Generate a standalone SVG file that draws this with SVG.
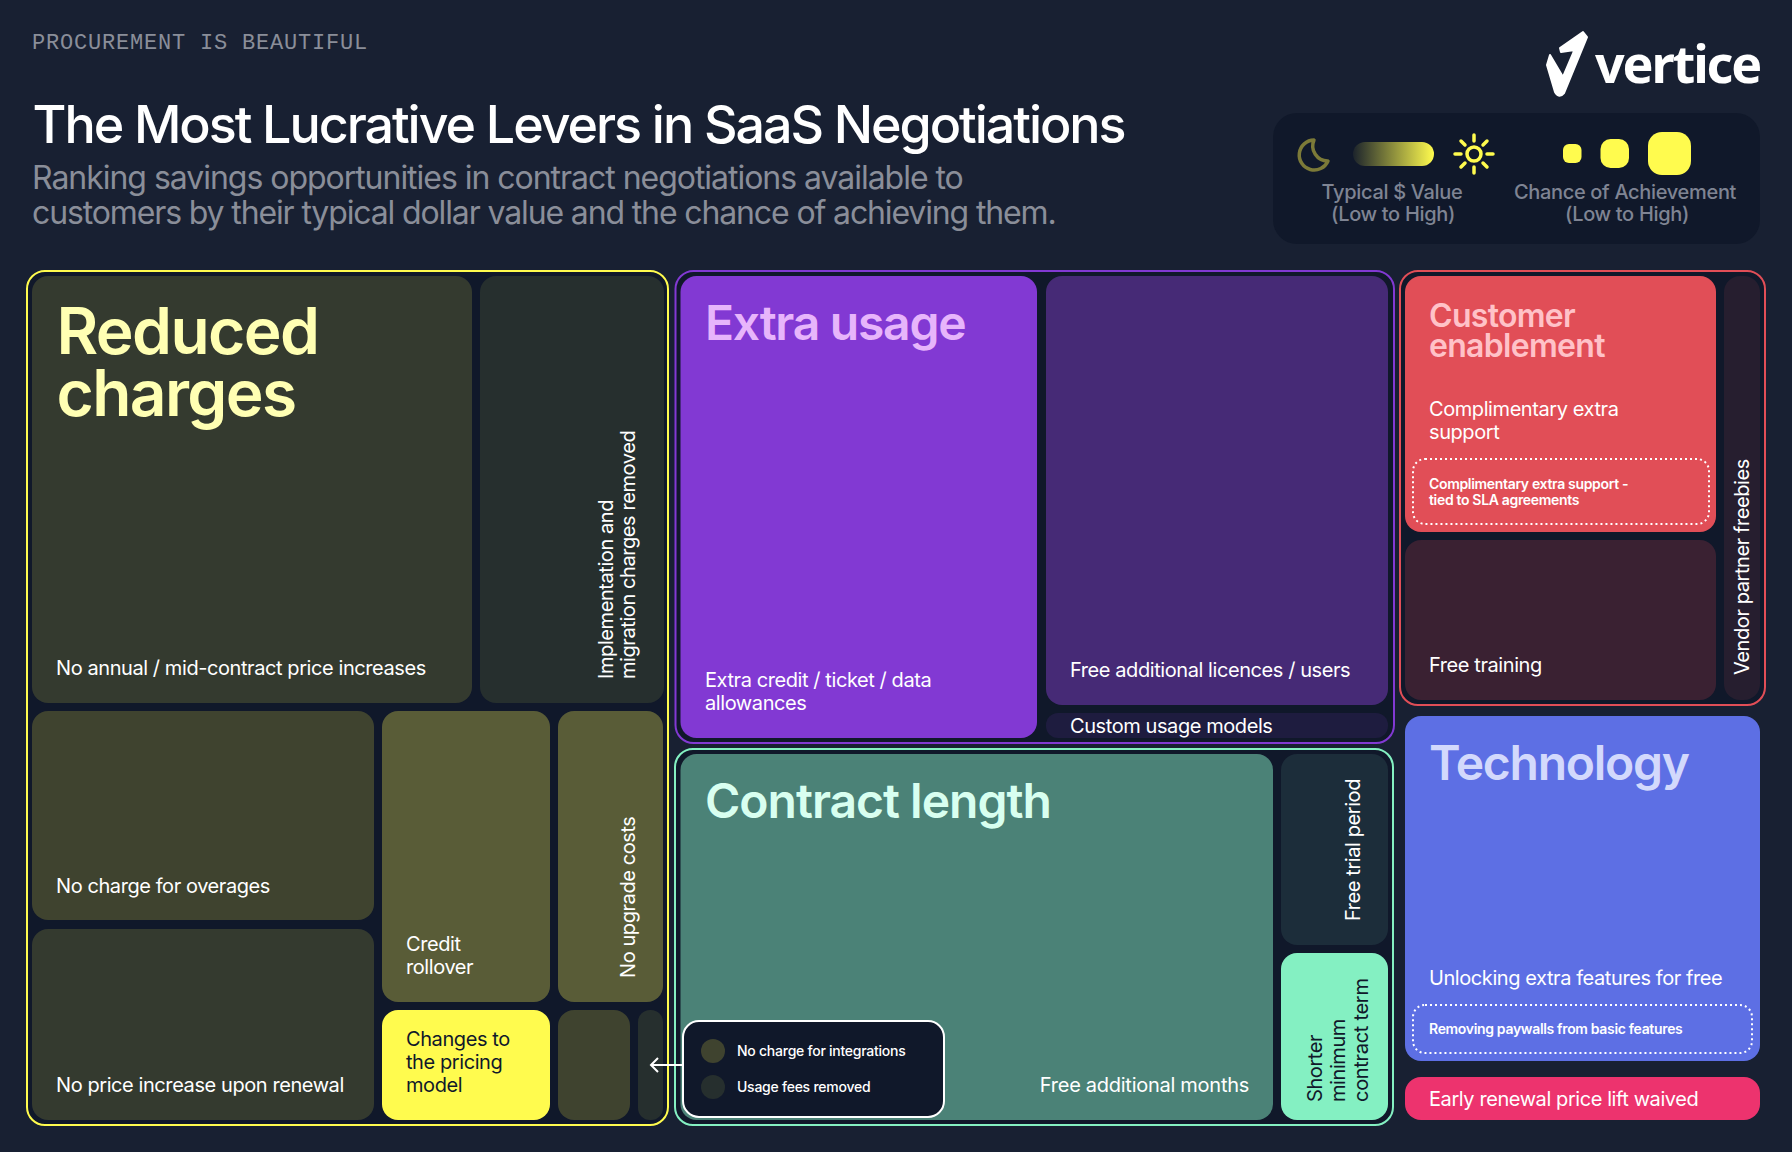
<svg xmlns="http://www.w3.org/2000/svg" width="1792" height="1152" viewBox="0 0 1792 1152">
<defs>
<linearGradient id="pill" x1="0" x2="1" y1="0" y2="0"><stop offset="0" stop-color="#fffb4e" stop-opacity="0.05"/><stop offset="1" stop-color="#fffb4e"/></linearGradient>
</defs>
<style>
text{font-family:"Inter","Liberation Sans",sans-serif;fill:#fff}
.l{font-size:20px;letter-spacing:-0.42px}
.h{font-weight:600;font-size:48px;letter-spacing:-1.05px}
.g{fill:#10182a;stroke-width:2}
.d{fill:none;stroke:#fff;stroke-width:2;stroke-dasharray:2 3}
.s{font-size:14px;font-weight:600;letter-spacing:-0.33px}
.leg{font-size:20px;font-weight:500;fill:#7f8493;text-anchor:middle;letter-spacing:-0.32px}
</style>
<rect width="1792" height="1152" fill="#182032"/>
<g id="header">
<text x="32" y="49" style="font-family:'Liberation Mono',monospace;font-size:22px;letter-spacing:0.8px;fill:#8a8e99">PROCUREMENT IS BEAUTIFUL</text>
<text x="32.500" y="143" style="font-size:52px;font-weight:500;letter-spacing:-2.05px">The Most Lucrative Levers in SaaS Negotiations</text>
<text x="32" y="189" style="font-size:32px;font-weight:400;letter-spacing:-1.03px;fill:#8a8e99">Ranking savings opportunities in contract negotiations available to</text>
<text x="32" y="224" style="font-size:32px;font-weight:400;letter-spacing:-1.13px;fill:#8a8e99">customers by their typical dollar value and the chance of achieving them.</text>
</g>
<g id="logo">
<path d="M1583 32L1587 37L1564 93Q1559 99 1555 92L1547 65L1550 55L1563 77L1574.5 50L1561 52L1560 48Z" fill="#fff" stroke="#fff" stroke-width="2" stroke-linejoin="round"/>
<text x="1595" y="83" style="font-family:'Noto Sans',sans-serif;font-size:52px;font-weight:700;letter-spacing:-2.1px">vertice</text>
</g>
<g id="legend">
<rect x="1273" y="113" width="487" height="131" rx="24" fill="#10182a"/>
<path d="M1314 140A15 15 0 1 0 1328 161A15 15 0 0 1 1314 140Z" fill="none" stroke="#7c7a38" stroke-width="3.5" stroke-linejoin="round"/>
<rect x="1353" y="142" width="81" height="24" rx="12" fill="url(#pill)"/>
<g stroke="#fffb4e" stroke-width="3.5" stroke-linecap="round" fill="none">
<circle cx="1474" cy="154" r="7"/>
<path d="M1474 135V141M1474 167V173M1455 154H1461M1487 154H1493M1461 141L1465 145M1483 163L1487 167M1461 167L1465 163M1483 145L1487 141"/>
</g>
<rect x="1563" y="144" width="18.500" height="19" rx="6" fill="#fffb4e"/>
<rect x="1600.500" y="139" width="28.500" height="29" rx="10" fill="#fffb4e"/>
<rect x="1648" y="132" width="43" height="43" rx="14" fill="#fffb4e"/>
<text class="leg" x="1392" y="199">Typical $ Value</text>
<text class="leg" x="1393" y="221">(Low to High)</text>
<text class="leg" x="1625" y="199">Chance of Achievement</text>
<text class="leg" x="1627" y="221">(Low to High)</text>
</g>
<g id="frames">
<rect class="g" x="27" y="271" width="641" height="854" rx="18" stroke="#fffb4e"/>
<rect class="g" x="675.500" y="271" width="718.500" height="472" rx="18" stroke="#8239d3"/>
<rect class="g" x="675" y="749" width="718" height="376" rx="18" stroke="#84f0c2"/>
<rect class="g" x="1400" y="271" width="365" height="434" rx="18" stroke="#e14e57"/>
</g>
<g id="reduced-charges">
<rect x="32" y="276" width="440" height="427" rx="16" fill="#343a2f"/>
<text x="56.500" y="354" class="h" style="font-size:64px;letter-spacing:-1.6px;fill:#ffffb3">Reduced</text>
<text x="56.500" y="416" class="h" style="font-size:64px;letter-spacing:-1.6px;fill:#ffffb3">charges</text>
<text x="56" y="675" class="l">No annual / mid-contract price increases</text>
</g>
<g id="implementation">
<rect x="480" y="276" width="184" height="427" rx="16" fill="#262f2e"/>
<text class="l" transform="translate(613 679) rotate(-90)">Implementation and</text>
<text class="l" transform="translate(635 679) rotate(-90)">migration charges removed</text>
</g>
<g id="overages">
<rect x="32" y="711" width="342" height="209" rx="16" fill="#3f432f"/>
<text x="56" y="893" class="l">No charge for overages</text>
</g>
<g id="price-increase">
<rect x="32" y="929" width="342" height="191" rx="16" fill="#343a2f"/>
<text x="56" y="1092" class="l">No price increase upon renewal</text>
</g>
<g id="credit-rollover">
<rect x="382" y="711" width="168" height="291" rx="16" fill="#595c37"/>
<text x="406" y="951" class="l">Credit</text>
<text x="406" y="974" class="l">rollover</text>
</g>
<g id="upgrade">
<rect x="558" y="711" width="105" height="291" rx="16" fill="#595c37"/>
<text class="l" transform="translate(635 978) rotate(-90)">No upgrade costs</text>
</g>
<g id="pricing-model">
<rect x="382" y="1010" width="168" height="110" rx="16" fill="#fffb4e"/>
<text x="406" y="1046" class="l" style="fill:#10182a">Changes to</text>
<text x="406" y="1069" class="l" style="fill:#10182a">the pricing</text>
<text x="406" y="1092" class="l" style="fill:#10182a">model</text>
</g>
<g id="integrations"><rect x="558" y="1010" width="72" height="110" rx="16" fill="#3f432f"/></g>
<g id="usage-fees"><rect x="638" y="1010" width="25" height="110" rx="12" fill="#262f2e"/></g>
<g id="extra-usage">
<rect x="680.500" y="276" width="356.500" height="462" rx="16" fill="#8239d3"/>
<text x="705" y="340" class="h" style="letter-spacing:-1.25px;fill:#e7b5fb">Extra usage</text>
<text x="705" y="687" class="l">Extra credit / ticket / data</text>
<text x="705" y="710" class="l">allowances</text>
</g>
<g id="licences">
<rect x="1046" y="276" width="342" height="429" rx="16" fill="#462a76"/>
<text x="1070" y="677" class="l">Free additional licences / users</text>
</g>
<g id="custom-usage">
<rect x="1046" y="713" width="342" height="25" rx="12" fill="#1e1c3f"/>
<text x="1070" y="733" class="l">Custom usage models</text>
</g>
<g id="contract-length">
<rect x="680.500" y="754" width="592.500" height="366" rx="16" fill="#4b8277"/>
<text x="705" y="818" class="h" style="letter-spacing:-1px;fill:#d8fff0">Contract length</text>
<text x="1249" y="1092" class="l" style="text-anchor:end;letter-spacing:-0.27px">Free additional months</text>
</g>
<g id="free-trial">
<rect x="1281" y="754" width="107" height="191" rx="16" fill="#1c2d3a"/>
<text class="l" transform="translate(1360 921) rotate(-90)">Free trial period</text>
</g>
<g id="shorter-term">
<rect x="1281" y="953" width="107" height="167" rx="16" fill="#84f0c2"/>
<text class="l" transform="translate(1322 1102) rotate(-90)" style="fill:#10182a">Shorter</text>
<text class="l" transform="translate(1345 1102) rotate(-90)" style="fill:#10182a">minimum</text>
<text class="l" transform="translate(1368 1102) rotate(-90)" style="fill:#10182a;letter-spacing:-0.3px">contract term</text>
</g>
<g id="customer-enablement">
<rect x="1405" y="276" width="311" height="256" rx="16" fill="#e14e57"/>
<text x="1429" y="327" class="h" style="font-size:32px;letter-spacing:-0.7px;fill:#ffc2c8">Customer</text>
<text x="1429" y="357" class="h" style="font-size:32px;letter-spacing:-0.7px;fill:#ffc2c8">enablement</text>
<text x="1429" y="416" class="l">Complimentary extra</text>
<text x="1429" y="439" class="l">support</text>
<rect class="d" x="1413" y="459" width="296" height="65" rx="12"/>
<text x="1429" y="489" class="s">Complimentary extra support -</text>
<text x="1429" y="505" class="s">tied to SLA agreements</text>
</g>
<g id="free-training">
<rect x="1405" y="540" width="311" height="160" rx="16" fill="#3a2132"/>
<text x="1429" y="672" class="l">Free training</text>
</g>
<g id="vendor-freebies">
<rect x="1724" y="276" width="36" height="424" rx="16" fill="#261e2f"/>
<text class="l" transform="translate(1749 675) rotate(-90)">Vendor partner freebies</text>
</g>
<g id="technology">
<rect x="1405" y="716" width="355" height="345" rx="16" fill="#5d6fe4"/>
<text x="1429" y="780" class="h" style="letter-spacing:-1.25px;fill:#d3d9fc">Technology</text>
<text x="1429" y="985" class="l">Unlocking extra features for free</text>
<rect class="d" x="1413" y="1005" width="339" height="48" rx="12"/>
<text x="1429" y="1034" class="s">Removing paywalls from basic features</text>
</g>
<g id="early-renewal">
<rect x="1405" y="1077" width="355" height="43" rx="16" fill="#ed336e"/>
<text x="1429" y="1106" class="l">Early renewal price lift waived</text>
</g>
<g id="connectors">
<path d="M683 1065H651M658 1058L651 1065L658 1072" fill="none" stroke="#fff" stroke-width="2"/>
</g>
<g id="callout">
<rect x="683" y="1021" width="261" height="96" rx="16" fill="#10182a" stroke="#fff" stroke-width="2"/>
<ellipse cx="713" cy="1051" rx="12" ry="12" fill="#3f432f"/>
<ellipse cx="713" cy="1087" rx="12" ry="12" fill="#262f2e"/>
<text x="737" y="1056" class="s" style="font-weight:500;letter-spacing:-0.25px">No charge for integrations</text>
<text x="737" y="1092" class="s" style="font-weight:500;letter-spacing:-0.25px">Usage fees removed</text>
</g>
</svg>
